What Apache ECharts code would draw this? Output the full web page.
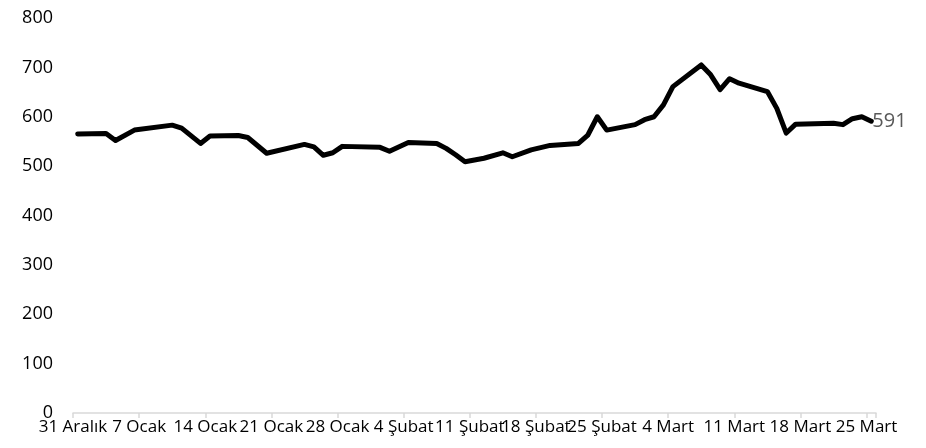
<!DOCTYPE html>
<html>
<head>
<meta charset="utf-8">
<script src="https://cdn.jsdelivr.net/npm/echarts@6/dist/echarts.min.js"></script>
<style>
  html, body { margin: 0; padding: 0; background: #fff; }
  #chart { width: 926px; height: 448px; }
</style>
</head>
<body>
<div id="chart"></div>
<script>
// weekly tick labels, one every 7 days starting at 31 Aralık
const tickLabels = ['31 Aralık', '7 Ocak', '14 Ocak', '21 Ocak', '28 Ocak', '4 Şubat', '11 Şubat',
  '18 Şubat', '25 Şubat', '4 Mart', '11 Mart', '18 Mart', '25 Mart']

// day offset from 31 Aralık for each observation
const days = [0, 3, 4, 6, 10, 11, 13, 14, 17, 18, 20, 24, 25, 26, 27, 28, 32, 33, 35, 38, 39, 40, 41, 43,
  45, 46, 48, 50, 53, 54, 55, 56, 59, 60, 61, 62, 63, 66, 67, 68, 69, 70, 73, 74, 75, 76, 80, 81, 82, 83, 84]

const values = [565, 566, 552, 573, 583, 577, 546, 561, 562, 558, 526, 544, 539, 522, 527, 540, 538, 530, 548, 546, 536, 523, 509, 516,
  527, 519, 533, 542, 546, 563, 600, 573, 584, 594, 600, 624, 661, 705, 685, 655, 677, 668, 651, 617, 567, 585, 587, 584, 596, 600, 591]

const yTicks = { min: 0, max: 800, interval: 100 }
const totalDays = 85

const chart = echarts.init(document.getElementById('chart'))

const font = '"Open Sans", "Noto Sans", sans-serif'

chart.setOption({
  animation: false,
  grid: {
    left: 73,
    right: 50,
    top: 18,
    bottom: 35,
    containLabel: false,
  },
  xAxis: {
    type: 'value',
    min: 0,
    max: totalDays,
    interval: 7,
    splitLine: { show: false },
    axisLine: {
      show: true,
      lineStyle: { color: '#d9d9d9', width: 1.5 },
    },
    axisTick: {
      show: true,
      length: 5,
      lineStyle: { color: '#d9d9d9', width: 1.5 },
    },
    axisLabel: {
      color: '#000',
      fontFamily: font,
      fontSize: 17,
      margin: 6,
      showMinLabel: true,
      showMaxLabel: true,
      formatter: (v) => tickLabels[v / 7] || '',
    },
  },
  yAxis: {
    type: 'value',
    min: yTicks.min,
    max: yTicks.max,
    interval: yTicks.interval,
    splitLine: { show: false },
    axisLine: { show: false },
    axisTick: { show: false },
    axisLabel: {
      color: '#000',
      fontFamily: font,
      fontSize: 18,
      margin: 20,
    },
  },
  series: [
    {
      type: 'line',
      // each day sits in the middle of its slot on the date axis
      data: days.map((d, i) => [d + 0.5, values[i]]),
      symbol: 'none',
      lineStyle: { color: '#000', width: 5, join: 'round', cap: 'round' },
      endLabel: {
        show: true,
        distance: 1,
        color: '#595959',
        fontFamily: font,
        fontSize: 20,
        formatter: (p) => String(p.value[1]),
      },
    },
  ],
})
</script>
</body>
</html>
